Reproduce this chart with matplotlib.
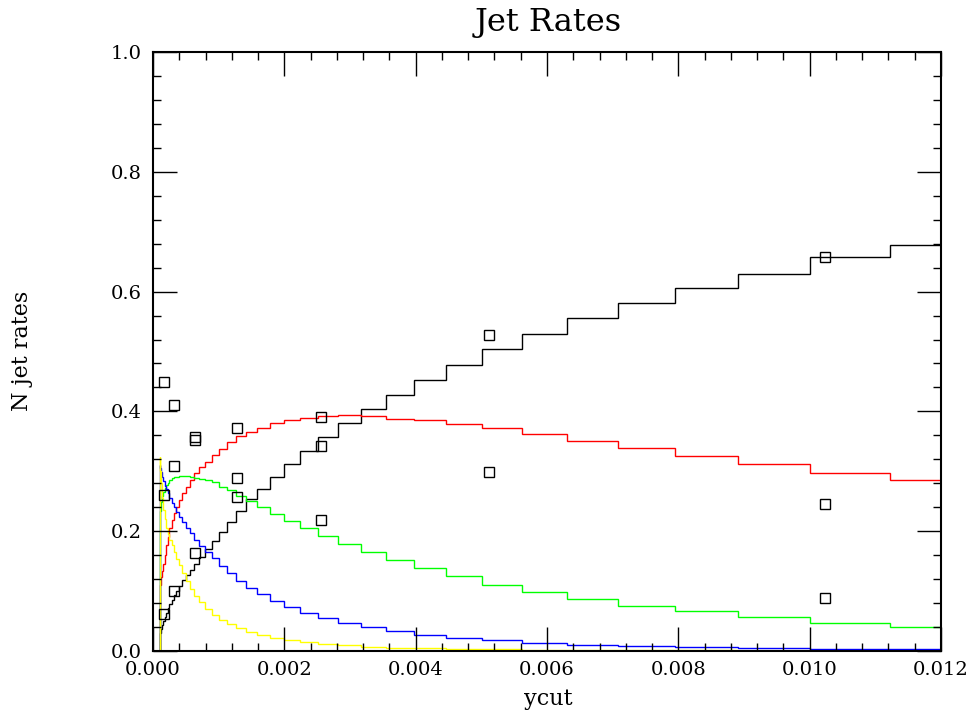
import numpy as np
import matplotlib
matplotlib.use("Agg")
import matplotlib.pyplot as plt
from matplotlib.ticker import MultipleLocator, FormatStrFormatter

# log-spaced ycut bins: 20 per decade starting at 1e-4 (42 bins)
bin_exponents = list(range(-80, -37))          # edges 10**(k/20)
edges = [10 ** (k / 20) for k in bin_exponents]

rate_2jet = [0.024, 0.030, 0.037, 0.043, 0.050, 0.057, 0.064, 0.071, 0.078, 0.085,
             0.093, 0.101, 0.109, 0.118, 0.127, 0.136, 0.146, 0.157, 0.170, 0.184,
             0.199, 0.215, 0.234, 0.253, 0.271, 0.291, 0.313, 0.334, 0.357, 0.380,
             0.404, 0.428, 0.452, 0.478, 0.504, 0.530, 0.556, 0.581, 0.606, 0.629,
             0.657, 0.677]
rate_3jet = [0.100, 0.110, 0.124, 0.134, 0.146, 0.160, 0.177, 0.191, 0.205, 0.219,
             0.230, 0.241, 0.252, 0.263, 0.274, 0.285, 0.297, 0.308, 0.316, 0.327,
             0.338, 0.349, 0.359, 0.365, 0.373, 0.380, 0.386, 0.389, 0.392, 0.3945,
             0.392, 0.388, 0.385, 0.379, 0.372, 0.362, 0.351, 0.3395, 0.3255, 0.313,
             0.2966, 0.2855]
rate_4jet = [0.215, 0.233, 0.248, 0.258, 0.266, 0.272, 0.277, 0.281, 0.285, 0.288,
             0.290, 0.291, 0.292, 0.292, 0.292, 0.291, 0.289, 0.287, 0.2855, 0.2816,
             0.2733, 0.2682, 0.2588, 0.251, 0.2399, 0.2293, 0.2176, 0.2048, 0.192, 0.178,
             0.1647, 0.1519, 0.138, 0.1245, 0.1107, 0.099, 0.0865, 0.0751, 0.0662, 0.0562,
             0.0473, 0.0395]
rate_5jet = [0.310, 0.305, 0.298, 0.290, 0.283, 0.276, 0.270, 0.263, 0.255, 0.247,
             0.240, 0.232, 0.224, 0.215, 0.206, 0.197, 0.186, 0.176, 0.166, 0.155,
             0.142, 0.130, 0.117, 0.106, 0.095, 0.083, 0.073, 0.0635, 0.0545, 0.046,
             0.040, 0.0331, 0.0275, 0.0223, 0.0178, 0.0139, 0.0104, 0.0083, 0.0067, 0.0045,
             0.0039, 0.0030]
rate_6jet = [0.324, 0.300, 0.280, 0.255, 0.235, 0.220, 0.205, 0.195, 0.186, 0.177,
             0.165, 0.153, 0.143, 0.130, 0.117, 0.104, 0.092, 0.081, 0.070, 0.060,
             0.052, 0.0445, 0.0378, 0.0317, 0.0262, 0.0223, 0.0184, 0.0145, 0.0113, 0.0092,
             0.0072, 0.0058, 0.0047, 0.0036, 0.0028, 0.0022, 0.0017, 0.0013, 0.0010, 0.0008,
             0.0006, 0.0005]

# measured data points (open squares)
data_ycut = [0.00016, 0.00016, 0.00016, 0.00032, 0.00032, 0.00032,
             0.00064, 0.00064, 0.00064, 0.00128, 0.00128, 0.00128,
             0.00256, 0.00256, 0.00256, 0.00512, 0.00512,
             0.01024, 0.01024, 0.01024]
data_rate = [0.449, 0.260, 0.061, 0.411, 0.309, 0.100,
             0.357, 0.353, 0.163, 0.372, 0.289, 0.257,
             0.390, 0.342, 0.218, 0.528, 0.298,
             0.657, 0.246, 0.088]

x_ticks = [0.000, 0.002, 0.004, 0.006, 0.008, 0.010, 0.012]
y_ticks = [0.0, 0.2, 0.4, 0.6, 0.8, 1.0]

plt.rcParams['font.family'] = ['DejaVu Serif']

fig = plt.figure(figsize=(9.77, 7.17), dpi=100)
ax = fig.add_axes([153 / 977, 1 - 651 / 717, 788 / 977, 599 / 717])

series = [(rate_2jet, 'black'), (rate_3jet, '#ff0000'), (rate_4jet, '#00ff00'),
          (rate_5jet, '#0000ff'), (rate_6jet, '#ffff00')]
for vals, col in series:
    ax.stairs(vals, edges, baseline=0, color=col, lw=1.0)

ax.plot(data_ycut, data_rate, linestyle='none', marker='s', ms=7.5,
        mfc='none', mec='black', mew=1.0, zorder=5)

ax.set_xlim(0, 0.012)
ax.set_ylim(0, 1.0)
ax.set_xticks(x_ticks)
ax.set_yticks(y_ticks)
ax.xaxis.set_minor_locator(MultipleLocator(0.0004))
ax.yaxis.set_minor_locator(MultipleLocator(0.04))
ax.xaxis.set_major_formatter(FormatStrFormatter('%.3f'))
ax.yaxis.set_major_formatter(FormatStrFormatter('%.1f'))
ax.tick_params(which='both', direction='in', top=True, right=True, width=1.0, color='black')
ax.tick_params(which='major', length=17, labelsize=14)
ax.tick_params(which='minor', length=6)
ax.tick_params(axis='x', which='major', pad=7)
ax.tick_params(axis='y', which='major', pad=8)
for sp in ax.spines.values():
    sp.set_linewidth(1.5)

fig.text(548 / 977, 1 - 22 / 717, 'Jet Rates', ha='center', va='center', fontsize=23)
fig.text(548 / 977, 1 - 699 / 717, 'ycut', ha='center', va='center', fontsize=16)
fig.text(22 / 977, 1 - 351 / 717, 'N jet rates', ha='center', va='center',
         rotation=90, fontsize=16)

fig.savefig('out.png', dpi=100)
